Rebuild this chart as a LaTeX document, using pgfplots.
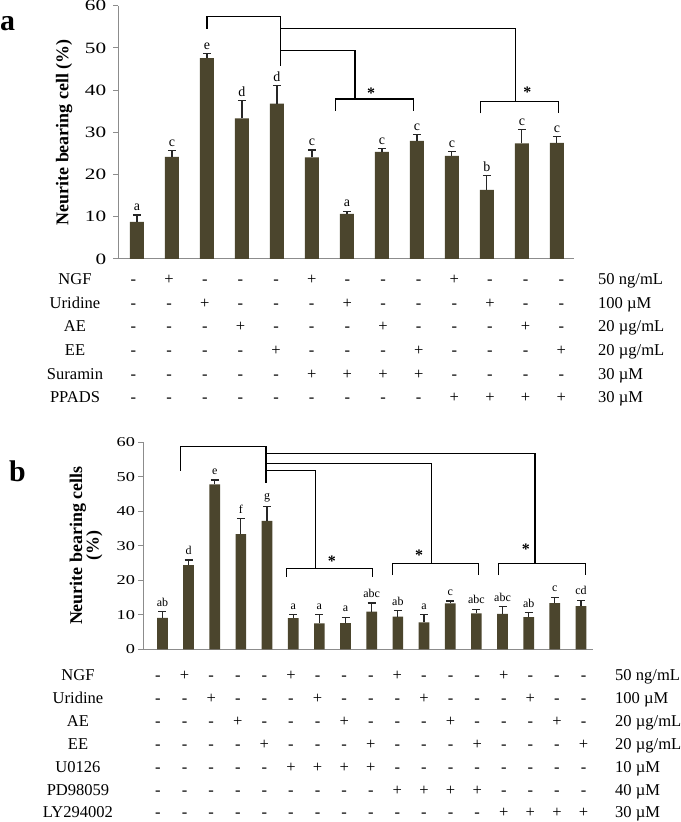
\documentclass[border=0pt]{standalone}
\usepackage{fontspec}
\setmainfont{Liberation Serif}
\usepackage{pgfplots}
\usepackage{pgfplotstable}
\pgfplotsset{compat=1.18}

\definecolor{barc}{RGB}{75,69,45}
\definecolor{axc}{RGB}{140,140,140}

% panel a: mean, error (plus), letter
\pgfplotstableread{
x y e lab
1 8.8 1.6 a
2 24.2 1.5 c
3 47.6 1.1 e
4 33.3 4.2 d
5 36.8 4.3 d
6 24.1 1.7 c
7 10.7 0.6 a
8 25.4 0.7 c
9 28.0 1.5 c
10 24.4 1.0 c
11 16.4 3.4 b
12 27.4 3.3 c
13 27.5 1.5 c
}\dataA

% panel b
\pgfplotstableread{
x y e lab
1 9.1 1.8 ab
2 24.4 1.5 d
3 47.8 1.3 e
4 33.4 4.4 f
5 37.2 4.1 g
6 9.0 1.0 a
7 7.5 2.5 a
8 7.6 1.7 a
9 10.9 2.5 abc
10 9.5 1.7 ab
11 7.8 2.3 a
12 13.3 0.7 c
13 10.4 1.2 abc
14 10.3 2.1 abc
15 9.3 1.4 ab
16 13.4 1.7 c
17 12.5 1.7 cd
}\dataB

\pgfplotsset{
  panel/.style={
    scale only axis,
    axis x line=bottom, axis y line=left,
    axis line style={axc, line width=1bp, -},
    xtick=\empty,
    ymin=0, ymax=60, ytick={0,10,...,60},
    tick align=outside, major tick length=5bp,
    ytick style={axc, line width=1bp},
    /pgf/number format/assume math mode=true,
    clip=false,
  },
  bars/.style={
    ybar, fill=barc, draw=none,
    error bars/.cd, y dir=plus, y explicit,
    error bar style={black!85, line width=1.2bp},
    error mark options={rotate=90, black!85, mark size=4bp, line width=1.2bp},
  },
}

\tikzset{
  tb/.style={font=\fontsize{16.6}{16.6}\selectfont, text height=11bp, text depth=0bp, inner sep=0pt},
  star/.style={font=\bfseries\fontsize{16}{16}\selectfont, inner sep=0pt, yshift=-2.6bp},
  br/.style={black, line width=1.1bp},
}

% y, first column x, column step, label x, label, unit x, unit, symbols
\newcommand\trow[8]{%
  \node[tb] at (#4bp,#1bp) {#5};
  \node[tb, anchor=west] at (#6bp,#1bp) {#7};
  \foreach \s [count=\i from 0] in {#8} {\node[tb] at ({(#2+\i*#3)*1bp},#1bp) {\s};}%
}

\begin{document}
\begin{tikzpicture}
\useasboundingbox (0,0) rectangle (681bp,822bp);

% ---------------- panel a ----------------
\begin{axis}[panel,
  at={(118bp,563bp)}, anchor=south west,
  width=456bp, height=253.3bp,
  xmin=0.457, xmax=13.49,
  yticklabel style={font=\fontsize{15.8}{15.8}\selectfont, xscale=1.35, xshift=-1.5bp},
  ylabel={Neurite bearing cell (\%)},
  ylabel style={font=\bfseries\fontsize{18}{18}\selectfont, at={(axis description cs:-0.118,0.5)}, anchor=center},
]
\addplot[bar width=14bp, bars] table[x=x, y=y, y error=e] {\dataA};
\addplot[draw=none, nodes near coords, point meta=explicit symbolic,
  every node near coord/.append style={font=\fontsize{14}{14}\selectfont, anchor=south, inner sep=0pt, yshift=4bp}]
  table[x=x, y expr=\thisrow{y}+\thisrow{e}, meta=lab] {\dataA};

\draw[br] (axis cs:3,54.5) |- (axis cs:5.1,57.4) -- (axis cs:5.1,45.8);
\draw[br] (axis cs:5.1,54.5) -| (axis cs:11.83,37.4);
\draw[br] (axis cs:5.1,49.4) -| (axis cs:7.23,37.9);
\draw[br] (axis cs:6.68,35.1) |- (axis cs:8.89,37.9) -- (axis cs:8.89,35.1);
\draw[br] (axis cs:10.83,34.5) |- (axis cs:13.05,37.4) -- (axis cs:13.05,34.5);
\node[star] at (axis cs:7.69,39.9) {*};
\node[star] at (axis cs:12.16,40.2) {*};
\end{axis}

\node[font=\bfseries\fontsize{30}{30}\selectfont, anchor=base, inner sep=0pt] at (7.5bp,791.3bp) {a};

\trow{543}{133.5}{35.65}{75}{NGF}{598}{50 ng/mL}{-,+,-,-,-,+,-,-,-,+,-,-,-}
\trow{519.3}{133.5}{35.65}{75}{Uridine}{598}{100 µM}{-,-,+,-,-,-,+,-,-,-,+,-,-}
\trow{495.6}{133.5}{35.65}{75}{AE}{598}{20 µg/mL}{-,-,-,+,-,-,-,+,-,-,-,+,-}
\trow{471.9}{133.5}{35.65}{75}{EE}{598}{20 µg/mL}{-,-,-,-,+,-,-,-,+,-,-,-,+}
\trow{448.2}{133.5}{35.65}{75}{Suramin}{598}{30 µM}{-,-,-,-,-,+,+,+,+,-,-,-,-}
\trow{424.5}{133.5}{35.65}{75}{PPADS}{598}{30 µM}{-,-,-,-,-,-,-,-,-,+,+,+,+}

% ---------------- panel b ----------------
\begin{axis}[panel,
  at={(143.3bp,172.7bp)}, anchor=south west,
  width=450bp, height=207bp,
  xmin=0.27, xmax=17.47,
  yticklabel style={font=\fontsize{13.6}{13.6}\selectfont, xscale=1.35, xshift=1bp},
  ylabel={Neurite bearing cells\\(\%)},
  ylabel style={align=center, font=\bfseries\fontsize{18}{16.5}\selectfont, at={(axis description cs:-0.127,0.5)}, anchor=center},
]
\addplot[bar width=10.7bp, bars] table[x=x, y=y, y error=e] {\dataB};
\addplot[draw=none, nodes near coords, point meta=explicit symbolic,
  every node near coord/.append style={font=\fontsize{12}{12}\selectfont, anchor=south, inner sep=0pt, yshift=5bp}]
  table[x=x, y expr=\thisrow{y}+\thisrow{e}, meta=lab] {\dataB};

\draw[br] (axis cs:1.69,51.8) |- (axis cs:4.96,58.9) -- (axis cs:4.96,48.3);
\draw[br] (axis cs:4.96,56.8) -| (axis cs:15.24,24.9);
\draw[br] (axis cs:4.96,53.9) -| (axis cs:11.29,24.9);
\draw[br] (axis cs:4.96,51.8) -| (axis cs:6.84,23.5);
\draw[br] (axis cs:5.76,21.0) |- (axis cs:9.04,23.5) -- (axis cs:9.04,21.0);
\draw[br] (axis cs:9.81,21.5) |- (axis cs:13.07,24.9) -- (axis cs:13.07,21.5);
\draw[br] (axis cs:13.84,21.5) |- (axis cs:17.16,24.9) -- (axis cs:17.16,21.5);
\node[star] at (axis cs:7.48,26.4) {*};
\node[star] at (axis cs:10.81,28.0) {*};
\node[star] at (axis cs:14.89,29.9) {*};
\end{axis}

\node[font=\bfseries\fontsize{30}{30}\selectfont, anchor=base, inner sep=0pt] at (17.5bp,340.3bp) {b};

\trow{147}{158}{26.6}{78}{NGF}{615}{50 ng/mL}{-,+,-,-,-,+,-,-,-,+,-,-,-,+,-,-,-}
\trow{124.1}{158}{26.6}{78}{Uridine}{615}{100 µM}{-,-,+,-,-,-,+,-,-,-,+,-,-,-,+,-,-}
\trow{101.2}{158}{26.6}{78}{AE}{615}{20 µg/mL}{-,-,-,+,-,-,-,+,-,-,-,+,-,-,-,+,-}
\trow{78.3}{158}{26.6}{78}{EE}{615}{20 µg/mL}{-,-,-,-,+,-,-,-,+,-,-,-,+,-,-,-,+}
\trow{55.4}{158}{26.6}{78}{U0126}{615}{10 µM}{-,-,-,-,-,+,+,+,+,-,-,-,-,-,-,-,-}
\trow{32.5}{158}{26.6}{78}{PD98059}{615}{40 µM}{-,-,-,-,-,-,-,-,-,+,+,+,+,-,-,-,-}
\trow{9.6}{158}{26.6}{78}{LY294002}{615}{30 µM}{-,-,-,-,-,-,-,-,-,-,-,-,-,+,+,+,+}
\end{tikzpicture}
\end{document}
